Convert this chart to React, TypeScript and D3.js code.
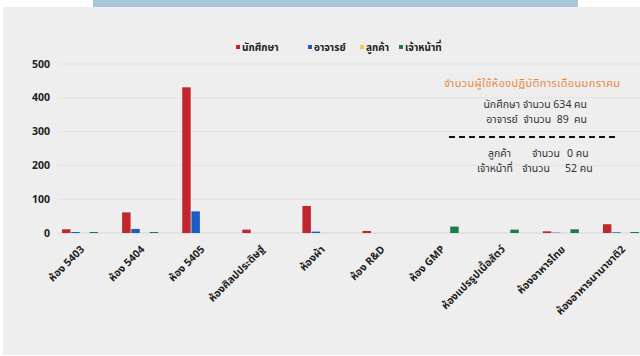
import React from "react";
import * as d3 from "d3";

const categories = [
  "ห้อง 5403",
  "ห้อง 5404",
  "ห้อง 5405",
  "ห้องศิลปประดิษฐ์",
  "ห้องผ้า",
  "ห้อง R&D",
  "ห้อง GMP",
  "ห้องแปรรูปเนื้อสัตว์",
  "ห้องอาหารไทย",
  "ห้องอาหารนานาชาติ2",
];
const seriesNames = ["นักศึกษา", "อาจารย์", "ลูกค้า", "เจ้าหน้าที่"];
const students = [11, 61, 431, 10, 80, 6, 0, 0, 5, 26];
const teachers = [3, 12, 64, 0, 4, 0, 0, 0, 1, 2];
const customers = [0, 0, 0, 0, 0, 0, 0, 0, 0, 0];
const staff = [3, 3, 0, 0, 0, 0, 19, 10, 11, 3];
const yTicks = [0, 100, 200, 300, 400, 500];
const noteTitle = "จำนวนผู้ใช้ห้องปฏิบัติการเดือนมกราคม";
const noteTop = ["นักศึกษา จำนวน 634 คน", "อาจารย์  จำนวน  89  คน"];
const noteBottom = [
  ["ลูกค้า", "จำนวน", "0 คน"],
  ["เจ้าหน้าที่", "จำนวน", "52 คน"],
];

const colors = ["#c0272d", "#1b5cc4", "#f2d14a", "#178047"];
const FONT = "'Noto Sans', 'Noto Sans Thai', 'DejaVu Sans', sans-serif";

export default function App() {
  const W = 640, H = 356;
  const series = [students, teachers, customers, staff];
  const x = d3.scaleBand().domain(categories).range([50, 651]).paddingInner(0.4).paddingOuter(0.2);
  const xs = d3.scaleBand().domain(seriesNames).range([0, x.bandwidth()]).paddingInner(0.08);
  const y = d3.scaleLinear().domain([0, 500]).range([233, 64]);
  const legendX = [236, 308, 360, 399];
  const bottomX = [
    [488, 532, 567],
    [477, 522, 565],
  ];

  return (
    <svg width={W} height={H} style={{ position: "absolute", left: 0, top: 0 }} fontFamily={FONT}>
      <rect x={0} y={0} width={W} height={H} fill="#ffffff" />
      <rect x={3} y={7} width={W - 3} height={348} fill="#eeeeee" />
      <rect x={93} y={0} width={485} height={7} fill="#a9c6da" />
      {yTicks.map((t) => (
        <g key={t}>
          <line x1={58} x2={W} y1={y(t)} y2={y(t)} stroke={t === 0 ? "#d4d4d4" : "#e2e2e2"} strokeWidth={1} />
          <text x={50} y={y(t)} dy="0.35em" textAnchor="end" fontSize={10.5} fontWeight={700} fill="#222">
            {t}
          </text>
        </g>
      ))}
      {categories.map((c, i) => (
        <g key={c} transform={`translate(${x(c)},0)`}>
          {series.map((s, j) =>
            s[i] > 0 ? (
              <rect
                key={j}
                x={xs(seriesNames[j])}
                y={y(s[i])}
                width={xs.bandwidth()}
                height={y(0) - y(s[i])}
                fill={colors[j]}
              />
            ) : null
          )}
        </g>
      ))}
      {categories.map((c) => {
        const cx = (x(c) as number) + x.bandwidth() / 2 + 5;
        return (
          <text
            key={c}
            transform={`translate(${cx},${250}) rotate(-45)`}
            textAnchor="end"
            fontSize={10.5}
            fontWeight={700}
            fill="#222"
          >
            {c}
          </text>
        );
      })}
      {seriesNames.map((n, j) => (
        <g key={n} transform={`translate(${legendX[j]},47)`}>
          <rect x={0} y={-2} width={4} height={4} fill={colors[j]} />
          <text x={6} y={0} dy="0.35em" fontSize={10} fontWeight={700} fill="#222">
            {n}
          </text>
        </g>
      ))}
      <text x={532} y={83} dy="0.35em" textAnchor="middle" fontSize={11} fill="#e7883f" textLength={176}>
        {noteTitle}
      </text>
      {noteTop.map((t, i) => (
        <text key={t} x={587} y={104 + i * 15} dy="0.35em" textAnchor="end" fontSize={10.5} fill="#333" style={{ whiteSpace: "pre" }}>
          {t}
        </text>
      ))}
      <line x1={449} x2={615} y1={137} y2={137} stroke="#111" strokeWidth={2} strokeDasharray="6,4" />
      {noteBottom.map((parts, i) => (
        <g key={i} fontSize={10.5} fill="#333">
          {parts.map((p, k) => (
            <text key={k} x={bottomX[i][k]} y={153 + i * 15} dy="0.35em">{p}</text>
          ))}
        </g>
      ))}
    </svg>
  );
}
